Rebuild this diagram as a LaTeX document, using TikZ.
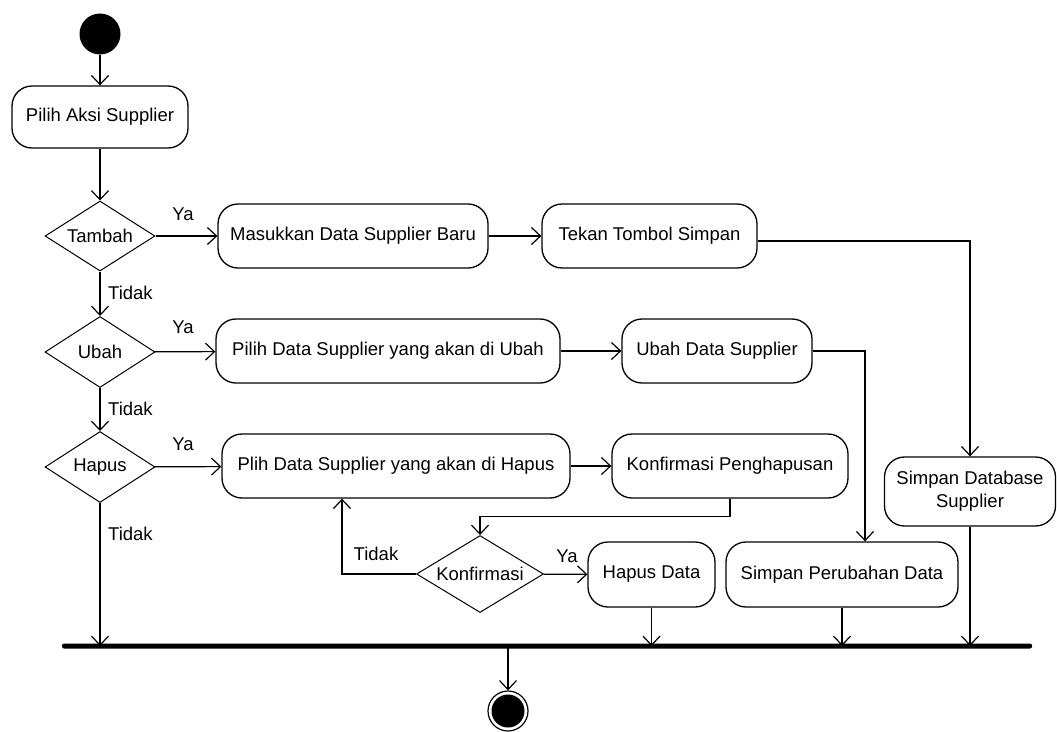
\documentclass[tikz,border=0pt]{standalone}
\usepackage{fontspec}
\setmainfont{Liberation Sans}
\usetikzlibrary{shapes.geometric,arrows.meta}
\begin{document}
\begin{tikzpicture}[x=1pt,y=-1pt,
  every node/.style={font=\fontsize{18.5}{23}\selectfont},
  act/.style={draw,line width=1.3pt,rounded corners=20pt,minimum height=64pt,inner sep=0pt,align=center},
  dec/.style={draw,diamond,line width=1pt,aspect=1.7,inner sep=0pt,minimum width=110pt,minimum height=70pt},
  flow/.style={line width=1.2pt,-{Straight Barb[length=9pt,width=17pt,line width=1.2pt]}},
  lbl/.style={inner sep=0pt}]
\useasboundingbox (0,0) rectangle (1057,731);

% start and first action
\node[circle,fill=black,minimum size=41pt,inner sep=0pt] (start) at (100,34) {};
\node[act,minimum width=176pt,minimum height=62pt] (aksi) at (100,117) {Pilih Aksi Supplier};

% decisions on the left
\node[dec] (tambah) at (100,236) {Tambah};
\node[dec,minimum height=71pt] (ubah) at (100,352) {Ubah};
\node[dec,minimum height=71pt] (hapus) at (100,467) {Hapus};

% add branch
\node[act,minimum width=270pt] (masuk) at (353,236) {Masukkan Data Supplier Baru};
\node[act,minimum width=215pt] (tekan) at (649.5,236) {Tekan Tombol Simpan};

% edit branch
\node[act,minimum width=344pt] (pu) at (388,351) {Pilih Data Supplier yang akan di Ubah};
\node[act,minimum width=190pt] (ud) at (717,351) {Ubah Data Supplier};

% delete branch
\node[act,minimum width=348pt] (ph) at (396,466) {Plih Data Supplier yang akan di Hapus};
\node[act,minimum width=236pt] (kp) at (730,466) {Konfirmasi Penghapusan};
\node[dec,minimum width=127pt,minimum height=77pt] (kd) at (480,574) {Konfirmasi};
\node[act,minimum width=127pt,minimum height=65pt] (hd) at (651.5,574.5) {Hapus Data};

% saving actions
\node[act,minimum width=232pt,minimum height=65pt] (sp) at (842,574.5) {Simpan Perubahan Data};
\node[act,minimum width=171pt,minimum height=69pt] (db) at (970,491.5) {Simpan Database\\Supplier};

% join bar and end
\node[fill=black,minimum width=970pt,minimum height=5pt,inner sep=0pt,rounded corners=2pt] (bar) at (547,646) {};
\node[circle,draw,line width=1.2pt,minimum size=40pt,inner sep=0pt,
  path picture={\fill[black] (path picture bounding box.center) circle (16.5pt);}] (end) at (508,711) {};

% connectors
\draw[flow] (start) -- (aksi);
\draw[flow] (aksi) -- (tambah);
\draw[flow] (tambah) -- (masuk);
\draw[flow] (masuk) -- (tekan);
\draw[flow] ([yshift=-5pt]tekan.east) -| (db.north);
\draw[flow] (tambah) -- (ubah);
\draw[flow] (ubah) -- (pu);
\draw[flow] (pu) -- (ud);
\draw[flow] (ud.east) -| ([xshift=23pt]sp.north);
\draw[flow] (ubah) -- (hapus);
\draw[flow] (hapus) -- (ph);
\draw[flow] (ph) -- (kp);
\draw[flow] (kp.south) -- ++(0,18) -| (kd.north);
\draw[flow] (kd.west) -| ([xshift=-54pt]ph.south);
\draw[flow] (kd) -- (hd);
\draw[flow] (hapus.south) -- (hapus.south |- bar.center);
\draw[flow] (hd.south) -- (hd.south |- bar.center);
\draw[flow] (sp.south) -- (sp.south |- bar.center);
\draw[flow] (db.south) -- (db.south |- bar.center);
\draw[flow] (end.north |- bar.center) -- (end.north);

% branch labels
\node[lbl] (ya1) at (183,214) {Ya};
\node[lbl] (ya2) at (183,327) {Ya};
\node[lbl] (ya3) at (183,444) {Ya};
\node[lbl,anchor=west] (td1) at (108,293) {Tidak};
\node[lbl,anchor=west] (td2) at (108,409) {Tidak};
\node[lbl,anchor=west] (td3) at (108,534) {Tidak};
\node[lbl] (td4) at (376,554) {Tidak};
\node[lbl] (ya4) at (567,556) {Ya};
\end{tikzpicture}
\end{document}
